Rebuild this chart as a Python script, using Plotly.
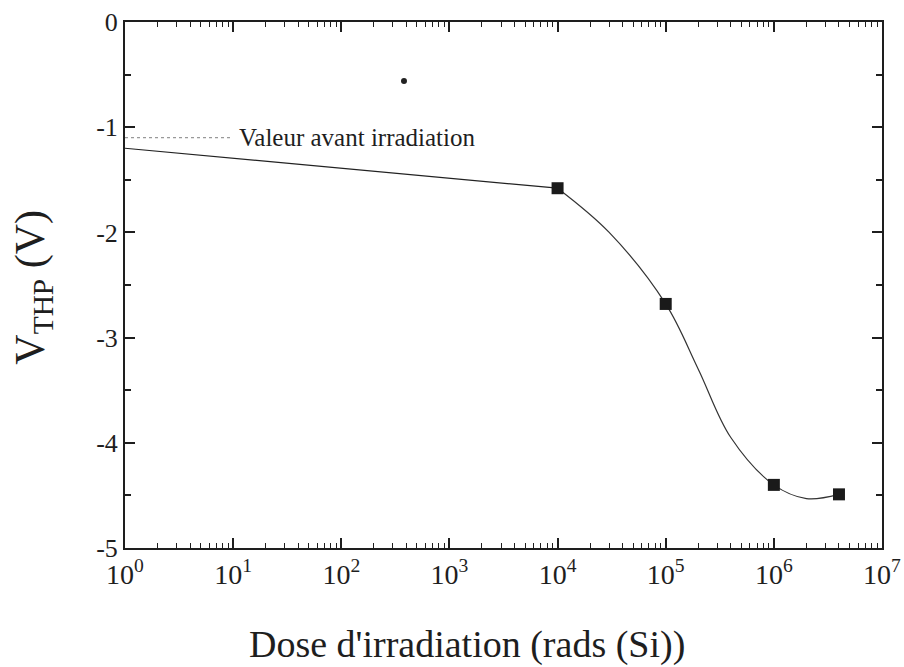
import plotly.graph_objects as go

# Measured points
dose = [1e4, 1e5, 1e6, 4e6]
vthp = [-1.58, -2.68, -4.40, -4.49]

# straight segment from low dose to 1e4
seg_x = [1, 1e4]
seg_y = [-1.20, -1.58]

# smooth curve knots
curve_x = [1e4, 3e4, 1e5, 2e5, 4e5, 1e6, 2e6, 4e6]
curve_y = [-1.58, -2.00, -2.68, -3.30, -3.95, -4.40, -4.53, -4.49]

# reference value before irradiation
ref_x = [1, 9.5]
ref_y = [-1.10, -1.10]

# stray dot
dot_x = [380]
dot_y = [-0.56]

xtick_vals = [1, 10, 100, 1e3, 1e4, 1e5, 1e6, 1e7]
xtick_text = ["10<sup>%d</sup>" % i for i in range(8)]
xminor_vals = [d * m for d in [1, 10, 100, 1e3, 1e4, 1e5, 1e6] for m in range(2, 10)]
ytick_vals = [0, -1, -2, -3, -4, -5]
ytick_text = ["0", "-1", "-2", "-3", "-4", "-5"]

SERIF = "Liberation Serif"
INK = "#1e1e1e"

fig = go.Figure()
fig.add_trace(go.Scatter(x=seg_x, y=seg_y, mode="lines",
                         line=dict(color="#222", width=1.2), showlegend=False))
fig.add_trace(go.Scatter(x=curve_x, y=curve_y, mode="lines",
                         line=dict(color="#333", width=1.2, shape="spline", smoothing=1.0),
                         showlegend=False))
fig.add_trace(go.Scatter(x=ref_x, y=ref_y, mode="lines",
                         line=dict(color="#999", width=1.2, dash="dot"), showlegend=False))
fig.add_trace(go.Scatter(x=dose, y=vthp, mode="markers",
                         marker=dict(symbol="square", size=12, color="#1a1a1a"),
                         showlegend=False))
fig.add_trace(go.Scatter(x=dot_x, y=dot_y, mode="markers",
                         marker=dict(symbol="circle", size=6, color="#222"),
                         showlegend=False))

# annotation (log axis: x given as log10 value)
fig.add_annotation(x=1.04, y=-1.10, xref="x", yref="y", text="Valeur avant irradiation",
                   showarrow=False, xanchor="left", yanchor="middle",
                   font=dict(family=SERIF, size=25, color=INK))

# axis titles
fig.add_annotation(x=0.452, y=-0.183, xref="paper", yref="paper",
                   text="Dose d'irradiation (rads (Si))", showarrow=False,
                   xanchor="center", yanchor="middle",
                   font=dict(family=SERIF, size=38, color=INK))
fig.add_annotation(x=-0.1215, y=0.495, xref="paper", yref="paper",
                   text="V<sub>THP</sub> (V)", showarrow=False, textangle=-90,
                   xanchor="center", yanchor="middle",
                   font=dict(family=SERIF, size=42, color=INK))

fig.update_layout(
    width=904, height=667,
    margin=dict(l=125, r=22, t=22, b=119, autoexpand=False),
    plot_bgcolor="white", paper_bgcolor="white",
    font=dict(family=SERIF, color=INK),
    xaxis=dict(type="log", range=[0, 7], tickmode="array", tickvals=xtick_vals, ticktext=xtick_text,
               ticks="inside", ticklen=10, tickwidth=1.5, tickcolor=INK,
               showline=True, linecolor=INK, linewidth=2, mirror="allticks",
               showgrid=False, zeroline=False, automargin=False,
               tickfont=dict(family=SERIF, size=28, color=INK),
               minor=dict(tickmode="array", tickvals=xminor_vals, ticks="inside",
                          ticklen=5, tickwidth=1.2, tickcolor=INK, showgrid=False)),
    yaxis=dict(range=[-5, 0], tickmode="array", tickvals=ytick_vals, ticktext=ytick_text,
               ticks="inside", ticklen=10, tickwidth=1.5, tickcolor=INK,
               showline=True, linecolor=INK, linewidth=2, mirror="allticks",
               showgrid=False, zeroline=False, automargin=False,
               tickfont=dict(family=SERIF, size=26, color=INK),
               minor=dict(tickmode="linear", tick0=0, dtick=0.5, ticks="inside", ticklen=6,
                          tickwidth=1.5, tickcolor=INK, showgrid=False)),
)

fig.write_html(
    "out.html",
    config={"displayModeBar": False},
    post_script="document.body.style.margin='0';document.body.style.overflow='hidden';",
)
